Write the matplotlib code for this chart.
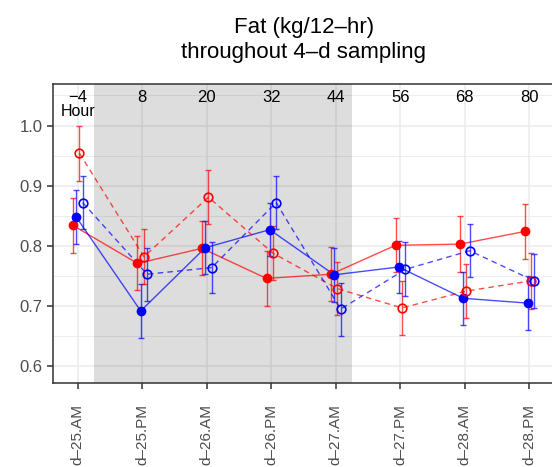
import matplotlib
matplotlib.use("Agg")
from matplotlib import pyplot as plt
import numpy as np

plt.rcParams['font.family'] = ['Liberation Sans', 'DejaVu Sans']

# hours of sampling and day labels
hours = [-4, 8, 20, 32, 44, 56, 68, 80]
day_labels = ['d\u201325.AM', 'd\u201325.PM', 'd\u201326.AM', 'd\u201326.PM',
              'd\u201327.AM', 'd\u201327.PM', 'd\u201328.AM', 'd\u201328.PM']

# means and error half-widths
red_solid = [0.834, 0.771, 0.796, 0.746, 0.753, 0.801, 0.803, 0.824]
red_solid_err = [0.046, 0.045, 0.045, 0.045, 0.045, 0.045, 0.046, 0.045]
blue_solid = [0.848, 0.692, 0.797, 0.827, 0.752, 0.765, 0.713, 0.705]
blue_solid_err = [0.045, 0.045, 0.044, 0.044, 0.045, 0.044, 0.044, 0.045]
red_dash = [0.954, 0.782, 0.881, 0.788, 0.729, 0.697, 0.725, 0.742]
red_dash_err = [0.046, 0.046, 0.045, 0.045, 0.044, 0.045, 0.045, 0.046]
blue_dash = [0.872, 0.753, 0.764, 0.872, 0.695, 0.761, 0.792, 0.742]
blue_dash_err = [0.044, 0.044, 0.043, 0.044, 0.044, 0.045, 0.044, 0.045]

shade_from, shade_to = -1, 47

fig = plt.figure(figsize=(5.52, 4.67), dpi=100)
ax = fig.add_axes([0.0957, 0.1803, 0.912, 0.6398])

h = np.array(hours, dtype=float)
series = [
    (red_solid, red_solid_err, '#FF0000', '-', True, -0.9),
    (blue_solid, blue_solid_err, '#0000FF', '-', True, -0.3),
    (red_dash, red_dash_err, '#FF0000', '--', False, 0.3),
    (blue_dash, blue_dash_err, '#0000FF', '--', False, 0.9),
]
for vals, err, col, ls, filled, off in series:
    x = h + off
    ax.errorbar(x, vals, yerr=err, fmt='none', ecolor=col, alpha=0.7,
                elinewidth=1.0, capsize=2, capthick=1.0, zorder=3)
    ax.plot(x, vals, ls=ls, color=col, alpha=0.7, lw=1.0,
            dashes=(4, 3) if ls == '--' else (None, None), zorder=3)
    if filled:
        ax.plot(x, vals, 'o', color=col, ms=6, zorder=4, ls='none')
    else:
        ax.plot(x, vals, 'o', mfc='none', mec=col, mew=1.2, ms=6.2,
                zorder=4, ls='none')

ax.axvspan(shade_from, shade_to, color='black', alpha=0.135, lw=0, zorder=1)

ax.set_xlim(-8.65, 85.0)
ax.set_ylim(0.5726, 1.069)
ax.set_yticks([0.6, 0.7, 0.8, 0.9, 1.0])
ax.set_yticks([0.65, 0.75, 0.85, 0.95, 1.05], minor=True)
ax.set_xticks(hours)
ax.set_xticklabels(day_labels, rotation=90, va='top', ha='center', fontsize=11)
ax.grid(True, which='major', color='#EBEBEB', lw=1.1, zorder=0)
ax.grid(True, which='minor', axis='y', color='#EBEBEB', lw=0.6, zorder=0)
ax.set_axisbelow(True)

ax.tick_params(axis='both', which='major', labelcolor='#4D4D4D',
               color='#333333', length=4, width=1.1)
ax.tick_params(axis='y', labelsize=12)
ax.tick_params(axis='y', which='minor', length=0)
ax.tick_params(axis='x', pad=11)
for s in ax.spines.values():
    s.set_color('#333333')
    s.set_linewidth(1.1)

for hr in hours:
    lab = '\u2212' + str(abs(hr)) if hr < 0 else str(hr)
    ax.text(hr, 1.046, lab, ha='center', va='center', fontsize=12, zorder=5)
ax.text(hours[0], 1.023, 'Hour', ha='center', va='center', fontsize=11.5, zorder=5)

fig.text(0.55, 0.915, 'Fat (kg/12\u2013hr)\nthroughout 4\u2013d sampling',
         ha='center', va='center', fontsize=16, linespacing=1.25)

fig.savefig('out.png', dpi=100)
